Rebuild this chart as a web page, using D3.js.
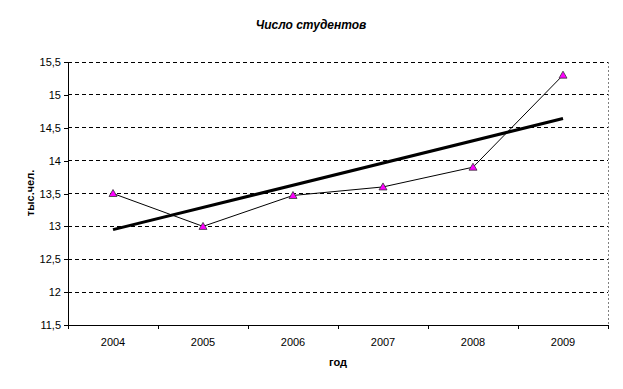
<!DOCTYPE html>
<html><head><meta charset="utf-8">
<script src="https://cdn.jsdelivr.net/npm/d3@7"></script>
<style>body{margin:0;background:#fff}svg{display:block;font-family:"Liberation Sans",Arial,sans-serif}</style>
</head><body>
<svg id="c" width="623" height="389"></svg>
<script>
const years = ["2004","2005","2006","2007","2008","2009"];
const students = [13.5, 13.0, 13.47, 13.6, 13.9, 15.3];
const yTicks = [11.5, 12, 12.5, 13, 13.5, 14, 14.5, 15, 15.5];

const svg = d3.select("#c");
const L = 68, R = 608, T = 62, B = 325;
const x = d3.scaleBand().domain(years).range([L, R]);
const y = d3.scaleLinear().domain([11.5, 15.5]).range([B, T]);
const fmt = v => String(v).replace(".", ",");

// gridlines
svg.append("g").selectAll("line").data(yTicks.filter(v => v > 11.5)).join("line")
  .attr("x1", L).attr("x2", R).attr("y1", d => y(d)).attr("y2", d => y(d))
  .attr("stroke", "#000").attr("stroke-width", 1).attr("stroke-dasharray", "4,3")
  .attr("shape-rendering", "crispEdges");
// right border
svg.append("line").attr("x1", R).attr("x2", R).attr("y1", T).attr("y2", B)
  .attr("stroke", "#808080").attr("stroke-dasharray", "2,2").attr("shape-rendering", "crispEdges");

// axes
const ya = d3.axisLeft(y).tickValues(yTicks).tickFormat(fmt).tickSize(4).tickPadding(3);
svg.append("g").attr("transform", `translate(${L},0)`).call(ya)
  .call(g => g.selectAll("text").attr("font-size", 11).attr("fill", "#000").attr("font-family", "Liberation Sans, Arial"))
  .call(g => g.selectAll("line,path").attr("stroke", "#000").attr("shape-rendering", "crispEdges"));

const xa = d3.axisBottom(x).tickSize(0).tickPadding(13);
const gx = svg.append("g").attr("transform", `translate(0,${B})`).call(xa);
gx.selectAll("text").attr("font-size", 11).attr("fill", "#000").attr("font-family", "Liberation Sans, Arial");
gx.select("path").attr("stroke", "#000").attr("shape-rendering", "crispEdges");
// band boundary ticks
const bounds = years.map(d => x(d)).concat([R]);
gx.selectAll(".bt").data(bounds).join("line").attr("class", "bt")
  .attr("x1", d => d).attr("x2", d => d).attr("y1", 0).attr("y2", 4)
  .attr("stroke", "#000").attr("shape-rendering", "crispEdges");

// trend line (linear regression)
const xs = years.map((d, i) => i);
const mx = d3.mean(xs), my = d3.mean(students);
const slope = d3.sum(xs, (v, i) => (v - mx) * (students[i] - my)) / d3.sum(xs, v => (v - mx) ** 2);
const icpt = my - slope * mx;
const cx = d => x(d) + x.bandwidth() / 2;
svg.append("line")
  .attr("x1", cx(years[0])).attr("y1", y(icpt))
  .attr("x2", cx(years[years.length - 1])).attr("y2", y(icpt + slope * (years.length - 1)))
  .attr("stroke", "#000").attr("stroke-width", 3);

// data line
svg.append("path").datum(students)
  .attr("d", d3.line().x((d, i) => cx(years[i])).y(d => y(d)))
  .attr("fill", "none").attr("stroke", "#000").attr("stroke-width", 1);

// markers
svg.append("g").selectAll("path").data(students).join("path")
  .attr("transform", (d, i) => `translate(${cx(years[i])},${y(d)})`)
  .attr("d", "M0,-4L4,3L-4,3Z")
  .attr("fill", "#ff00ff").attr("stroke", "#333").attr("stroke-width", 0.8);

// titles
svg.append("text").attr("x", 311).attr("y", 29).attr("text-anchor", "middle")
  .attr("font-size", 12).attr("font-weight", "bold").attr("font-style", "italic").text("Число студентов");
svg.append("text").attr("x", 338).attr("y", 366).attr("text-anchor", "middle")
  .attr("font-size", 11).attr("font-weight", "bold").text("год");
svg.append("text").attr("transform", "translate(34,193) rotate(-90)").attr("text-anchor", "middle")
  .attr("font-size", 11).attr("font-weight", "bold").text("тыс.чел.");
</script>
</body></html>
